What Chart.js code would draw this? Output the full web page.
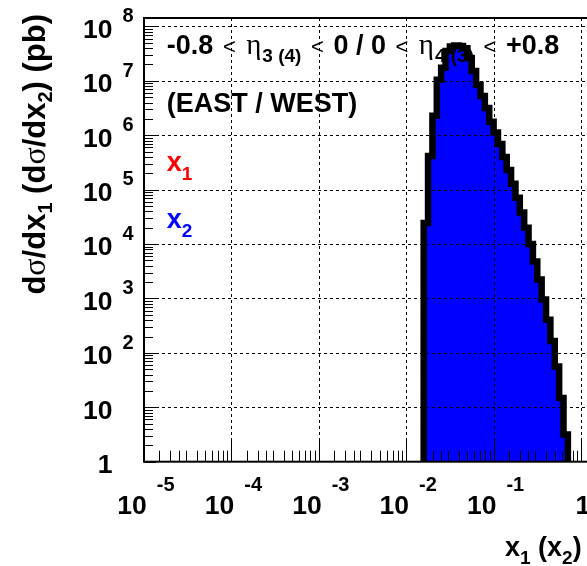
<!DOCTYPE html>
<html>
<head>
<meta charset="utf-8">
<script src="https://cdn.jsdelivr.net/npm/chart.js@4/dist/chart.umd.min.js"></script>
<style>
  html, body { margin: 0; padding: 0; background: #fff; overflow: hidden; }
  #wrap { position: relative; width: 640px; height: 566px; }
</style>
</head>
<body>
<div id="wrap"><canvas id="c"></canvas></div>
<script>
// log10 of the x1 (x2) bin edges
const binEdgesLog10 = [-1.80, -1.75, -1.70, -1.65, -1.60, -1.55, -1.50, -1.45, -1.40, -1.35,
                       -1.30, -1.25, -1.20, -1.15, -1.10, -1.05, -1.00, -0.95, -0.90, -0.85,
                       -0.80, -0.75, -0.70, -0.65, -0.60, -0.55, -0.50, -0.45, -0.40, -0.35,
                       -0.30, -0.25, -0.20, -0.15];
// dσ/dx per bin (pb)
const binValues = [2.45e4, 4.17e5, 2.29e6, 1.05e7, 1.74e7, 3.55e7, 4.27e7, 4.47e7, 4.37e7, 3.98e7,
                   2.63e7, 1.51e7, 8.51e6, 5.25e6, 3.16e6, 1.78e6, 1.12e6, 6.92e5, 3.98e5, 2.29e5,
                   1.29e5, 7.08e4, 3.80e4, 2.00e4, 1.00e4, 4.79e3, 2.24e3, 955, 407, 166,
                   56.2, 14.8, 3.16];

const xRange = [1e-5, 1.65];
const yRange = [1, 1.43e8];
const xDecades = [-5, -4, -3, -2, -1, 0];
const yDecades = [0, 1, 2, 3, 4, 5, 6, 7, 8];
const xMinorSteps = [1.5, 2, 2.5, 3, 4, 5, 6, 7, 8, 9];
const yMinorSteps = [2, 3, 4, 5, 6, 7, 8, 9];
const xTickLabels = [['10', '-5'], ['10', '-4'], ['10', '-3'], ['10', '-2'], ['10', '-1'], ['1', '']];
const yTickLabels = [['1', ''], ['10', ''], ['10', '2'], ['10', '3'], ['10', '4'], ['10', '5'],
                     ['10', '6'], ['10', '7'], ['10', '8']];

// stepped outline: up the first edge, across each bin, down the last edge
const histPoints = [{ x: Math.pow(10, binEdgesLog10[0]), y: yRange[0] }];
binValues.forEach((v, i) => histPoints.push({ x: Math.pow(10, binEdgesLog10[i]), y: v }));
histPoints.push({ x: Math.pow(10, binEdgesLog10[binEdgesLog10.length - 1]), y: yRange[0] });

const SANS = '"Liberation Sans", Arial, sans-serif';
const SERIF = '"Liberation Serif", "Times New Roman", serif';
const B27 = 'bold 27px ' + SANS;
const SUB = 'bold 19px ' + SANS;
const LT = '22px ' + SANS;
const ETA = '29px ' + SERIF;
const TICK = 'bold 26.5px ' + SANS;
const EXP = 'bold 20px ' + SANS;

function drawRuns(ctx, x, y, runs, measureOnly) {
  let cx = x;
  runs.forEach(r => {
    ctx.font = r.font;
    const w = ctx.measureText(r.text).width;
    const adv = r.cell || w;
    if (!measureOnly) {
      ctx.fillStyle = r.color || '#000';
      ctx.fillText(r.text, cx + (adv - w) / 2, y + (r.dy || 0));
    }
    cx += adv;
  });
  return cx - x;
}

function seg(ctx, x1, y1, x2, y2) {
  ctx.beginPath(); ctx.moveTo(x1, y1); ctx.lineTo(x2, y2); ctx.stroke();
}

const frameAndLabels = {
  id: 'frameAndLabels',
  afterDatasetsDraw(chart) {
    const { ctx, chartArea: a, scales } = chart;
    const xs = scales.x, ys = scales.y;
    ctx.save();
    ctx.strokeStyle = '#000';

    // dashed grid at every decade
    ctx.lineWidth = 1;
    ctx.setLineDash([3, 3]);
    xDecades.slice(1).forEach(d => {
      const px = Math.round(xs.getPixelForValue(Math.pow(10, d))) + 0.5;
      seg(ctx, px, a.top, px, a.bottom);
    });
    yDecades.slice(1).forEach(d => {
      const py = Math.round(ys.getPixelForValue(Math.pow(10, d))) + 0.5;
      seg(ctx, a.left, py, a.right, py);
    });
    ctx.setLineDash([]);

    // inward ticks on the bottom axis
    ctx.lineWidth = 1;
    xDecades.forEach(d => {
      const px = Math.round(xs.getPixelForValue(Math.pow(10, d))) + 0.5;
      seg(ctx, px, a.bottom, px, a.bottom - 21);
      xMinorSteps.forEach(m => {
        const v = m * Math.pow(10, d);
        if (v >= xRange[1]) return;
        const q = Math.round(xs.getPixelForValue(v)) + 0.5;
        seg(ctx, q, a.bottom, q, a.bottom - 11);
      });
    });
    // inward ticks on the left axis
    yDecades.forEach(d => {
      const py = Math.round(ys.getPixelForValue(Math.pow(10, d))) + 0.5;
      seg(ctx, a.left, py, a.left + 12, py);
      yMinorSteps.forEach(m => {
        const v = m * Math.pow(10, d);
        if (v >= yRange[1]) return;
        const q = Math.round(ys.getPixelForValue(v)) + 0.5;
        seg(ctx, a.left, q, a.left + 9, q);
      });
    });

    // frame
    ctx.lineWidth = 2;
    ctx.strokeRect(a.left, a.top, a.right - a.left, a.bottom - a.top);

    // bottom axis labels
    ctx.textBaseline = 'alphabetic';
    xDecades.forEach((d, i) => {
      const px = xs.getPixelForValue(Math.pow(10, d));
      const [base, ex] = xTickLabels[i];
      ctx.font = TICK;
      const wb = ctx.measureText(base).width;
      if (!ex) {
        ctx.fillStyle = '#000';
        ctx.fillText(base, px - wb / 2 + 2, a.bottom + 52);
        return;
      }
      ctx.font = EXP;
      const we = ctx.measureText(ex).width;
      const start = px - (wb + 10 + we) / 2 + 2;
      ctx.fillStyle = '#000';
      ctx.font = TICK; ctx.fillText(base, start, a.bottom + 52);
      ctx.font = EXP; ctx.fillText(ex, start + wb + 10, a.bottom + 29);
    });

    // left axis labels
    yDecades.forEach((d, i) => {
      const py = ys.getPixelForValue(Math.pow(10, d));
      const [base, ex] = yTickLabels[i];
      ctx.fillStyle = '#000';
      ctx.font = TICK;
      const wb = ctx.measureText(base).width;
      ctx.fillText(base, a.left - 31.5 - wb, py + 11.3);
      if (ex) { ctx.font = EXP; ctx.fillText(ex, a.left - 21.5, py - 4.3); }
    });

    // in-frame captions
    drawRuns(ctx, 166.8, 54, [
      { text: '-0.8', font: B27 }, { text: '<', font: LT, cell: 32 },
      { text: 'η', font: ETA, cell: 17 }, { text: '3 (4)', font: SUB, dy: 8 },
      { text: '<', font: LT, cell: 32 }, { text: '0 / 0', font: B27 },
      { text: '<', font: LT, cell: 32 }, { text: 'η', font: ETA, cell: 17 },
      { text: '4 (3)', font: SUB, dy: 8 }, { text: '<', font: LT, cell: 32 },
      { text: '+0.8', font: B27 }
    ]);
    drawRuns(ctx, 166.8, 112, [{ text: '(EAST / WEST)', font: B27 }]);
    drawRuns(ctx, 166.8, 171, [
      { text: 'x', font: B27, color: '#ff0000' }, { text: '1', font: SUB, dy: 9, color: '#ff0000' }
    ]);
    drawRuns(ctx, 166.8, 228, [
      { text: 'x', font: B27, color: '#0000ff' }, { text: '2', font: SUB, dy: 9, color: '#0000ff' }
    ]);

    // axis titles
    drawRuns(ctx, 505, 556, [
      { text: 'x', font: B27 }, { text: '1', font: SUB, dy: 8 },
      { text: ' (x', font: B27 }, { text: '2', font: SUB, dy: 8 }, { text: ')', font: B27 }
    ]);
    const T = 'bold 31px ' + SANS, TS = '32px ' + SERIF, TSUB = 'bold 20px ' + SANS;
    const yTitle = [
      { text: 'd', font: T }, { text: 'σ', font: TS }, { text: '/dx', font: T },
      { text: '1', font: TSUB, dy: 7 }, { text: ' (d', font: T }, { text: 'σ', font: TS },
      { text: '/dx', font: T }, { text: '2', font: TSUB, dy: 7 }, { text: ') (pb)', font: T }
    ];
    ctx.save();
    ctx.translate(45, 14);
    ctx.rotate(-Math.PI / 2);
    const tw = drawRuns(ctx, 0, 0, yTitle, true);
    drawRuns(ctx, -tw, 0, yTitle);
    ctx.restore();

    ctx.restore();
  }
};

new Chart(document.getElementById('c'), {
  type: 'line',
  data: {
    datasets: [{
      data: histPoints,
      stepped: true,
      borderColor: '#000',
      borderWidth: 6.5,
      borderJoinStyle: 'miter',
      backgroundColor: '#0000ff',
      fill: 'start',
      pointRadius: 0,
      tension: 0
    }]
  },
  options: {
    responsive: true,
    maintainAspectRatio: false,
    animation: false,
    devicePixelRatio: 1,
    layout: { padding: { left: 144, top: 18, right: 40, bottom: 104.3 } },
    plugins: { legend: { display: false }, tooltip: { enabled: false } },
    scales: {
      x: { type: 'logarithmic', min: xRange[0], max: xRange[1], display: false },
      y: { type: 'logarithmic', min: yRange[0], max: yRange[1], display: false }
    }
  },
  plugins: [frameAndLabels]
});
</script>
</body>
</html>
